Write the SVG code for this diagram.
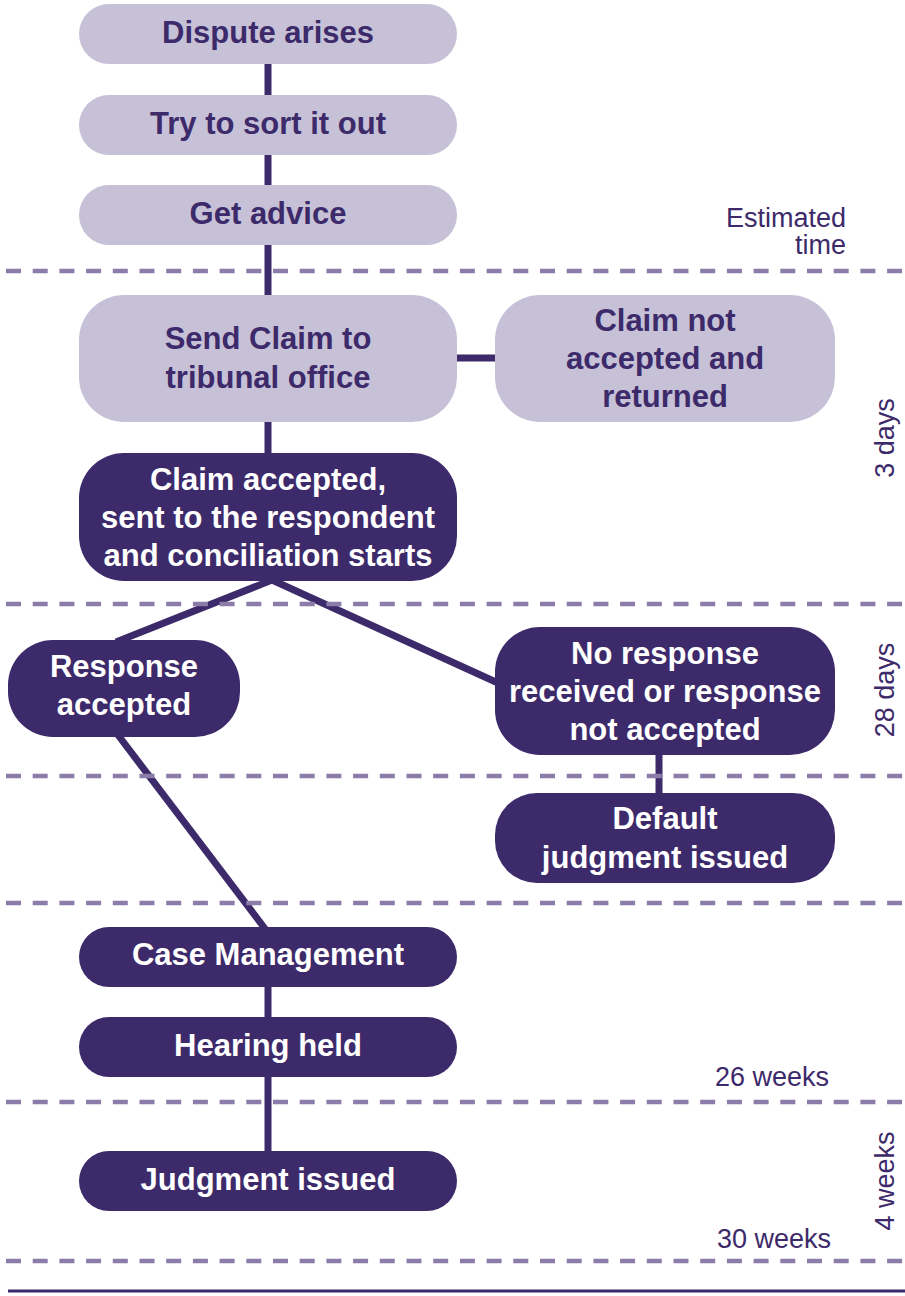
<svg xmlns="http://www.w3.org/2000/svg" width="905" height="1296" viewBox="0 0 905 1296">
<style>
.lt{fill:#c6c1d7}
.dk{fill:#3d2a6a}
.tl{font-family:"Liberation Sans",Arial,sans-serif;font-weight:bold;font-size:31px;fill:#3d2a6a;text-anchor:middle}
.td{font-family:"Liberation Sans",Arial,sans-serif;font-weight:bold;font-size:31px;fill:#ffffff;text-anchor:middle}
.lab{font-family:"Liberation Sans",Arial,sans-serif;font-size:27px;fill:#3d2a6a}
.con{stroke:#3d2a6a;stroke-width:7;fill:none}
.dash{stroke:#8b7ca9;stroke-width:4.5;stroke-dasharray:15 11.7;fill:none}
</style>
<g id="connectors">
<line class="con" x1="268" y1="60" x2="268" y2="98"/>
<line class="con" x1="268" y1="150" x2="268" y2="190"/>
<line class="con" x1="268" y1="240" x2="268" y2="300"/>
<line class="con" x1="450" y1="358" x2="500" y2="358"/>
<line class="con" x1="268" y1="415" x2="268" y2="460"/>
<line class="con" x1="272" y1="580" x2="116" y2="642"/>
<line class="con" x1="272" y1="580" x2="498" y2="683"/>
<line class="con" x1="118" y1="735" x2="266" y2="930"/>
<line class="con" x1="659" y1="750" x2="659" y2="797"/>
<line class="con" x1="268" y1="980" x2="268" y2="1022"/>
<line class="con" x1="268" y1="1072" x2="268" y2="1156"/>
</g>
<g id="timeline">
<line class="dash" x1="6" y1="271" x2="905" y2="271"/>
<line class="dash" x1="6" y1="604" x2="905" y2="604"/>
<line class="dash" x1="6" y1="776" x2="905" y2="776"/>
<line class="dash" x1="6" y1="903" x2="905" y2="903"/>
<line class="dash" x1="6" y1="1102" x2="905" y2="1102"/>
<line class="dash" x1="6" y1="1261" x2="905" y2="1261"/>
<line x1="8" y1="1291" x2="905" y2="1291" stroke="#3d2a6a" stroke-width="3"/>
</g>
<g id="n1"><rect class="lt" x="79" y="4" width="378" height="60" rx="30"/><text class="tl" x="268" y="43">Dispute arises</text></g>
<g id="n2"><rect class="lt" x="79" y="95" width="378" height="60" rx="30"/><text class="tl" x="268" y="134">Try to sort it out</text></g>
<g id="n3"><rect class="lt" x="79" y="185" width="378" height="60" rx="30"/><text class="tl" x="268" y="224">Get advice</text></g>
<g id="n4"><rect class="lt" x="79" y="295" width="378" height="127" rx="45"/><text class="tl" x="268" y="349">Send Claim to</text><text class="tl" x="268" y="388">tribunal office</text></g>
<g id="n5"><rect class="lt" x="495" y="295" width="340" height="127" rx="45"/><text class="tl" x="665" y="331">Claim not</text><text class="tl" x="665" y="369">accepted and</text><text class="tl" x="665" y="407">returned</text></g>
<g id="n6"><rect class="dk" x="79" y="453" width="378" height="128" rx="45"/><text class="td" x="268" y="490">Claim accepted,</text><text class="td" x="268" y="528">sent to the respondent</text><text class="td" x="268" y="566">and conciliation starts</text></g>
<g id="n7"><rect class="dk" x="8" y="640" width="232" height="97" rx="45"/><text class="td" x="124" y="677">Response</text><text class="td" x="124" y="715">accepted</text></g>
<g id="n8"><rect class="dk" x="495" y="627" width="340" height="128" rx="45"/><text class="td" x="665" y="664">No response</text><text class="td" x="665" y="702">received or response</text><text class="td" x="665" y="740">not accepted</text></g>
<g id="n9"><rect class="dk" x="495" y="793" width="340" height="90" rx="42"/><text class="td" x="665" y="829">Default</text><text class="td" x="665" y="868">judgment issued</text></g>
<g id="n10"><rect class="dk" x="79" y="927" width="378" height="60" rx="30"/><text class="td" x="268" y="965">Case Management</text></g>
<g id="n11"><rect class="dk" x="79" y="1017" width="378" height="60" rx="30"/><text class="td" x="268" y="1056">Hearing held</text></g>
<g id="n12"><rect class="dk" x="79" y="1151" width="378" height="60" rx="30"/><text class="td" x="268" y="1190">Judgment issued</text></g>
<g id="labels">
<text class="lab" x="846" y="227" text-anchor="end">Estimated</text>
<text class="lab" x="846" y="254" text-anchor="end">time</text>
<text class="lab" text-anchor="middle" transform="translate(894,438) rotate(-90)">3 days</text>
<text class="lab" text-anchor="middle" transform="translate(894,690) rotate(-90)">28 days</text>
<text class="lab" text-anchor="middle" transform="translate(894,1181) rotate(-90)">4 weeks</text>
<text class="lab" x="829" y="1086" text-anchor="end">26 weeks</text>
<text class="lab" x="831" y="1248" text-anchor="end">30 weeks</text>
</g>
</svg>
